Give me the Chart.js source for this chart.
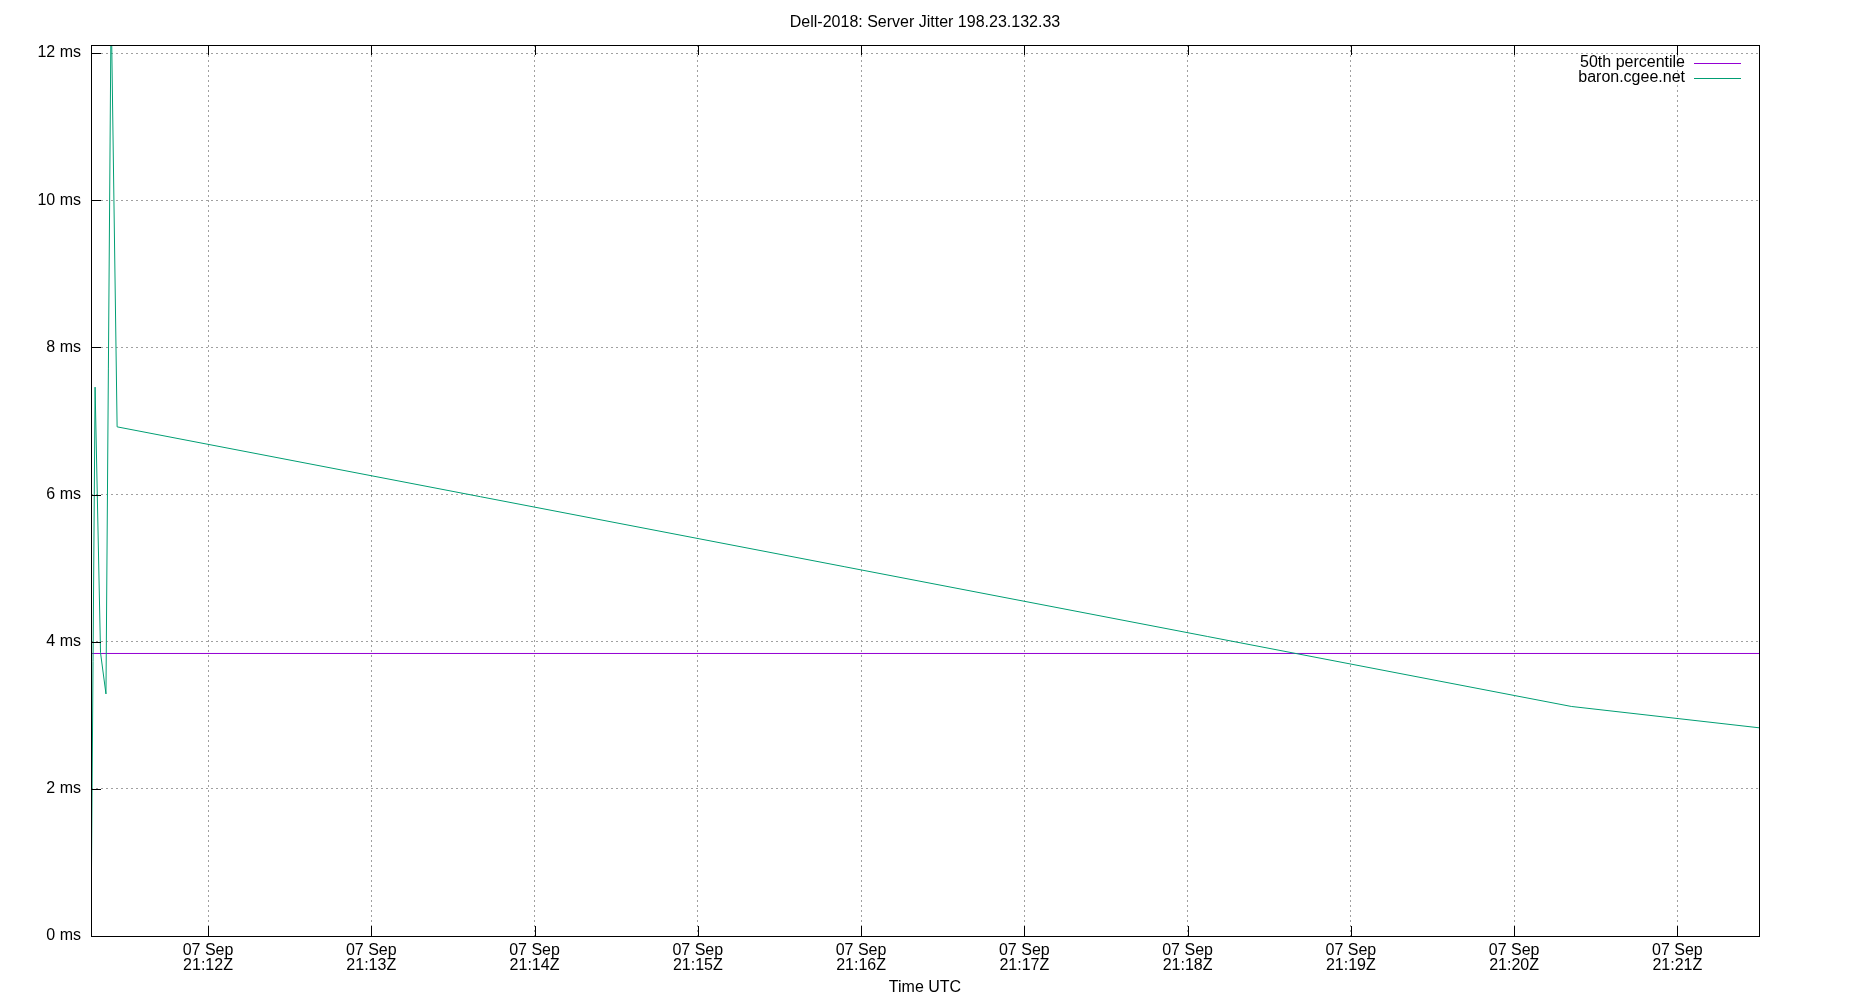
<!DOCTYPE html>
<html>
<head>
<meta charset="utf-8">
<script src="https://cdn.jsdelivr.net/npm/chart.js@4/dist/chart.umd.min.js"></script>
<style>
  html, body { margin: 0; padding: 0; background: #ffffff; }
  #wrap { width: 1850px; height: 1000px; }
</style>
</head>
<body>
<div id="wrap"><canvas id="c" width="1850" height="1000"></canvas></div>
<script>
// ---- data ----
const chartTitle = 'Dell-2018: Server Jitter 198.23.132.33';
const xAxisTitle = 'Time UTC';
const dateLabel = '07 Sep';
const jitterLabel = 'baron.cgee.net';
const percentileLabel = '50th percentile';
const jitterTimes = ['21:11:17.0', '21:11:18.5', '21:11:20.5', '21:11:22.5', '21:11:24.4', '21:11:26.6', '21:20:21.0', '21:21:30.0'];
const jitterValues = [0.0, 7.46, 3.85, 3.29, 12.7, 6.92, 3.12, 2.83];
const percentileValue = 3.84;
const xTickTimes = ['21:12', '21:13', '21:14', '21:15', '21:16', '21:17', '21:18', '21:19', '21:20', '21:21'];
const yTickValues = [0, 2, 4, 6, 8, 10, 12];
const xRange = ['21:11:17.0', '21:21:30.0'];
const yMax = 12.11;

// ---- helpers ----
function toSec(s) {
  const p = s.split(':').map(Number);
  return p[0] * 3600 + p[1] * 60 + (p[2] || 0);
}
function fmtTime(sec) {
  const h = Math.floor(sec / 3600);
  const m = Math.floor((sec % 3600) / 60);
  return String(h).padStart(2, '0') + ':' + String(m).padStart(2, '0') + 'Z';
}

const xMin = toSec(xRange[0]);
const xMax = toSec(xRange[1]);
const jitterData = jitterTimes.map((t, i) => ({ x: toSec(t), y: jitterValues[i] }));
const percentileData = [{ x: xMin, y: percentileValue }, { x: xMax, y: percentileValue }];

const FONT = '"Liberation Sans", Arial, sans-serif';
Chart.defaults.font.family = FONT;
Chart.defaults.font.size = 16;
Chart.defaults.color = '#000000';

const gnuplotFrame = {
  id: 'gnuplotFrame',
  afterDatasetsDraw(chart) {
    const { ctx, chartArea: a, scales } = chart;
    const xs = scales.x, ys = scales.y;
    ctx.save();
    ctx.strokeStyle = '#000000';
    ctx.lineWidth = 1;
    ctx.beginPath();
    const L = 10;
    xs.ticks.forEach(t => {
      const px = Math.round(xs.getPixelForValue(t.value)) + 0.5;
      ctx.moveTo(px, a.bottom); ctx.lineTo(px, a.bottom - L);
      ctx.moveTo(px, a.top); ctx.lineTo(px, a.top + L);
    });
    ys.ticks.forEach(t => {
      const py = Math.round(ys.getPixelForValue(t.value)) + 0.5;
      ctx.moveTo(a.left, py); ctx.lineTo(a.left + L, py);
    });
    ctx.stroke();
    ctx.strokeRect(Math.round(a.left) + 0.5, Math.round(a.top) + 0.5,
                   Math.round(a.right - a.left), Math.round(a.bottom - a.top));
    // legend (gnuplot style: text then sample line, top right inside)
    ctx.font = '16px ' + FONT;
    ctx.textAlign = 'right';
    ctx.textBaseline = 'middle';
    const textRight = a.right - 74;
    chart.data.datasets.forEach((ds, i) => {
      const y = a.top + 17.5 + i * 15.5;
      ctx.fillStyle = '#000000';
      ctx.fillText(ds.label, textRight, y);
      ctx.beginPath();
      ctx.strokeStyle = ds.borderColor;
      ctx.lineWidth = 1;
      ctx.moveTo(a.right - 65, Math.round(y) + 0.5);
      ctx.lineTo(a.right - 18, Math.round(y) + 0.5);
      ctx.stroke();
    });
    ctx.restore();
  }
};

new Chart(document.getElementById('c'), {
  type: 'line',
  data: {
    datasets: [
      {
        label: percentileLabel,
        data: percentileData,
        borderColor: '#9400d3',
        borderWidth: 1,
        pointRadius: 0,
        tension: 0,
        fill: false,
        order: 1
      },
      {
        label: jitterLabel,
        data: jitterData,
        borderColor: '#009e73',
        borderWidth: 1,
        pointRadius: 0,
        tension: 0,
        fill: false,
        order: 0
      }
    ]
  },
  options: {
    responsive: false,
    devicePixelRatio: 1,
    animation: false,
    layout: { padding: 0 },
    plugins: {
      legend: { display: false },
      tooltip: { enabled: false },
      title: {
        display: true,
        text: chartTitle,
        font: { size: 16, weight: 'normal', lineHeight: 1.2 },
        color: '#000000',
        padding: { top: 13, bottom: 12.8 }
      }
    },
    scales: {
      x: {
        type: 'linear',
        min: xMin,
        max: xMax,
        afterBuildTicks(scale) {
          scale.ticks = xTickTimes.map(t => ({ value: toSec(t) }));
        },
        afterFit(scale) { scale.height = 64; },
        ticks: {
          autoSkip: false,
          maxRotation: 0,
          minRotation: 0,
          padding: 7,
          font: { size: 16, lineHeight: '15px' },
          color: '#000000',
          callback: (v) => [dateLabel, fmtTime(v)]
        },
        grid: { color: '#a0a0a0', lineWidth: 1, drawTicks: false },
        border: { display: false, dash: [2, 3] },
        title: {
          display: true,
          text: xAxisTitle,
          font: { size: 16, lineHeight: 1.2 },
          color: '#000000',
          padding: { top: 0, bottom: 2.4 }
        }
      },
      y: {
        type: 'linear',
        position: 'left',
        min: 0,
        max: yMax,
        afterBuildTicks(scale) {
          scale.ticks = yTickValues.map(v => ({ value: v }));
        },
        afterFit(scale) { scale.width = 91; },
        ticks: {
          padding: 10,
          font: { size: 16 },
          color: '#000000',
          callback: (v) => v + ' ms'
        },
        grid: { color: '#a0a0a0', lineWidth: 1, drawTicks: false },
        border: { display: false, dash: [2, 3] }
      },
      yRightSpace: {
        type: 'linear',
        position: 'right',
        min: 0,
        max: yMax,
        afterFit(scale) { scale.width = 91; },
        ticks: { display: false },
        grid: { display: false, drawTicks: false },
        border: { display: false }
      }
    }
  },
  plugins: [gnuplotFrame]
});
</script>
</body>
</html>
